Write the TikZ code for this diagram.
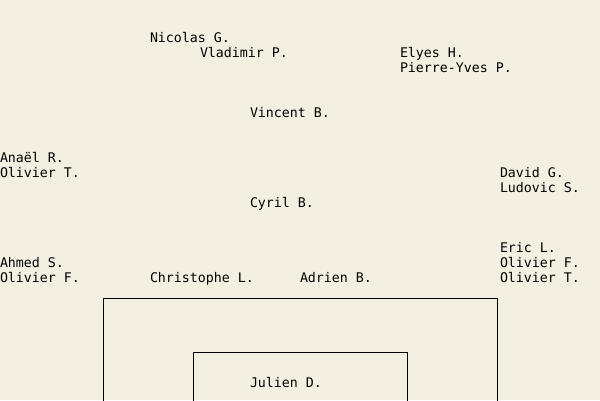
\documentclass[tikz,border=0pt]{standalone}
\usepackage{fontspec}
\setmonofont{DejaVu Sans Mono}
\definecolor{bg}{HTML}{F3F0E1}
\tikzset{
  lbl/.style={anchor=base west, inner sep=0pt, outer sep=0pt, font=\ttfamily\fontsize{13.28}{15}\selectfont, text=black},
  boxline/.style={draw=black, line width=1pt}
}
\begin{document}
\begin{tikzpicture}[x=1pt,y=-1pt]
\useasboundingbox (0,0) rectangle (600,400);
\fill[bg] (0,0) rectangle (600,400);
\clip (0,0) rectangle (600,400);
\draw[boxline] (103.5,450) -- (103.5,298.5) -- (497.5,298.5) -- (497.5,450);
\draw[boxline] (193.5,450) -- (193.5,352.5) -- (407.5,352.5) -- (407.5,450);
\node[lbl] (nicolas) at (150,42.5) {Nicolas G.};
\node[lbl] (vladimir) at (200,57.5) {Vladimir P.};
\node[lbl] (elyes) at (400,57.5) {Elyes H.};
\node[lbl] (pierre) at (400,72.5) {Pierre-Yves P.};
\node[lbl] (vincent) at (250,117.5) {Vincent B.};
\node[lbl] (anael) at (0,162.5) {Anaël R.};
\node[lbl] (oliviert1) at (0,177.5) {Olivier T.};
\node[lbl] (david) at (500,177.5) {David G.};
\node[lbl] (ludovic) at (500,192.5) {Ludovic S.};
\node[lbl] (cyril) at (250,207.5) {Cyril B.};
\node[lbl] (eric) at (500,252.5) {Eric L.};
\node[lbl] (ahmed) at (0,267.5) {Ahmed S.};
\node[lbl] (olivierf2) at (500,267.5) {Olivier F.};
\node[lbl] (olivierf1) at (0,282.5) {Olivier F.};
\node[lbl] (christophe) at (150,282.5) {Christophe L.};
\node[lbl] (adrien) at (300,282.5) {Adrien B.};
\node[lbl] (oliviert2) at (500,282.5) {Olivier T.};
\node[lbl] (julien) at (250,387.5) {Julien D.};
\end{tikzpicture}
\end{document}
